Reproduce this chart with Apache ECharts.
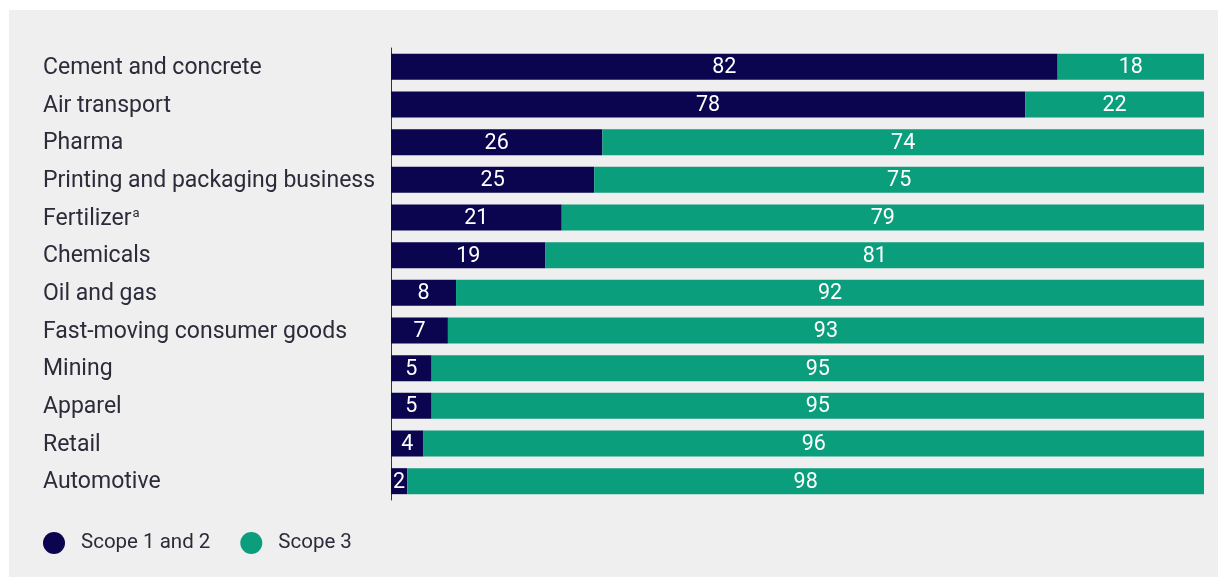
<!DOCTYPE html>
<html>
<head>
<meta charset="utf-8">
<script src="https://cdn.jsdelivr.net/npm/echarts@6/dist/echarts.min.js"></script>
<style>
html,body{margin:0;padding:0;background:#ffffff;}
#panel{position:absolute;left:9px;top:10px;width:1209px;height:567px;background:#efefef;}
#chart{position:absolute;left:0;top:0;width:1218px;height:578px;}
</style>
</head>
<body>
<div id="panel"></div>
<div id="chart"></div>
<script>
const categories = ["Cement and concrete","Air transport","Pharma","Printing and packaging business","Fertilizer\u1d43","Chemicals","Oil and gas","Fast-moving consumer goods","Mining","Apparel","Retail","Automotive"];
const scope12 = [82,78,26,25,21,19,8,7,5,5,4,2];
const scope3 = [18,22,74,75,79,81,92,93,95,95,96,98];
const seriesNames = ["Scope 1 and 2","Scope 3"];

const chart = echarts.init(document.getElementById('chart'), null, {renderer:'canvas'});
const labelStyle = {show:true, position:'inside', color:'#ffffff', fontFamily:'Roboto', fontSize:21.5, offset:[0,1]};
chart.setOption({
  backgroundColor:'transparent',
  animation:false,
  textStyle:{fontFamily:'Roboto'},
  grid:{left:391, right:14, top:48, bottom:78, containLabel:false},
  xAxis:{type:'value', min:0, max:100, show:false},
  yAxis:{type:'category', data:categories, inverse:true,
    axisLine:{show:true, lineStyle:{color:'#333333', width:1}},
    axisTick:{show:false},
    axisLabel:{align:'left', margin:348, color:'#2b2b3a', fontSize:23, fontFamily:'Roboto',
      formatter:function(v){
        if (v.slice(-1) === '\u1d43') return '{n|' + v.slice(0,-1) + '}{s|a}';
        return '{n|' + v + '}';
      },
      rich:{
        n:{fontSize:23, color:'#2b2b3a', fontFamily:'Roboto', padding:[3,0,0,0]},
        s:{fontSize:13, color:'#2b2b3a', fontFamily:'Roboto', padding:[0,0,8,1]}
      }
    }
  },
  legend:{left:38, top:527, itemWidth:22, itemHeight:22, itemGap:30, icon:'circle',
    textStyle:{color:'#2b2b3a', fontSize:20.5, fontFamily:'Roboto', padding:[2,0,0,11]}, data:seriesNames},
  series:[
    {name:seriesNames[0], type:'bar', stack:'t', data:scope12, barWidth:26,
     itemStyle:{color:'#0b044f'}, label:labelStyle},
    {name:seriesNames[1], type:'bar', stack:'t', data:scope3, barWidth:26,
     itemStyle:{color:'#0a9e7d'}, label:labelStyle}
  ]
});
</script>
</body>
</html>
